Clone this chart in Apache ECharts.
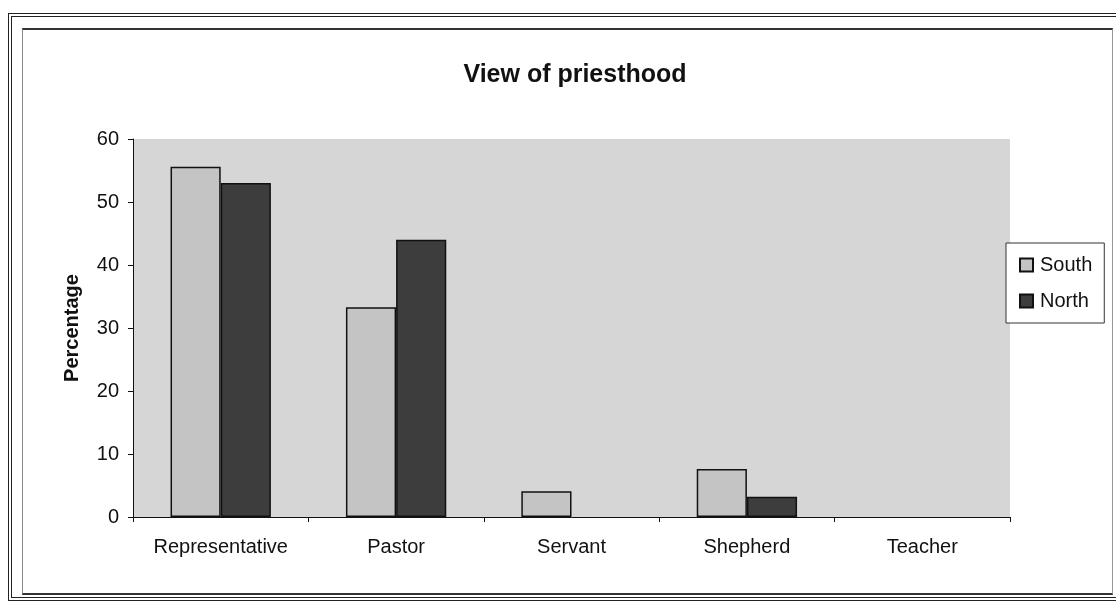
<!DOCTYPE html>
<html>
<head>
<meta charset="utf-8">
<script src="https://cdn.jsdelivr.net/npm/echarts@6/dist/echarts.min.js"></script>
<style>
  html, body { margin: 0; padding: 0; background: #fff; }
  .frame { position: absolute; left: 8px; top: 13px; width: 1104px; height: 580px; border: 4px double #222; border-right: none; }
  .inner { position: absolute; left: 22px; top: 28px; width: 1089px; height: 563px; border-top: 2px solid #333; border-left: 1px solid #888; border-right: 1px solid #999; border-bottom: 2px solid #333; }
  #chart { position: absolute; left: 0; top: 0; width: 1120px; height: 601px; }
</style>
</head>
<body>
<div class="frame"></div>
<div class="inner"></div>
<div id="chart"></div>
<script>
const categories = ['Representative', 'Pastor', 'Servant', 'Shepherd', 'Teacher'];
const southValues = [55.6, 33.3, 4.1, 7.6, 0];
const northValues = [53.0, 44.0, 0, 3.2, 0];
const yTicks = [0, 10, 20, 30, 40, 50, 60];

// zero bars are not drawn in the original
const noZero = arr => arr.map(v => (v === 0 ? '-' : v));

const chart = echarts.init(document.getElementById('chart'));
const font = 'Arial, "Liberation Sans", sans-serif';

chart.setOption({
  animation: false,
  textStyle: { fontFamily: font },
  title: {
    text: 'View of priesthood',
    left: 570,
    textAlign: 'center',
    top: 58,
    textStyle: { fontSize: 25, fontWeight: 'bold', color: '#111', fontFamily: font }
  },
  legend: {
    orient: 'vertical',
    left: 1006,
    top: 243,
    padding: [12, 12, 12, 13],
    itemGap: 16,
    itemWidth: 13,
    itemHeight: 13,
    icon: 'rect',
    borderColor: '#333',
    borderWidth: 1,
    backgroundColor: '#fff',
    textStyle: { fontSize: 20, color: '#111', fontFamily: font, padding: [0, 0, 0, 2] },
    data: ['South', 'North']
  },
  grid: {
    left: 133,
    right: 110,
    top: 139,
    bottom: 84,
    show: true,
    backgroundColor: '#d6d6d6',
    borderWidth: 0
  },
  xAxis: {
    type: 'category',
    data: categories,
    axisLine: { lineStyle: { color: '#111', width: 1 } },
    axisTick: { show: true, length: 5, lineStyle: { color: '#111' } },
    axisLabel: { fontSize: 20, color: '#111', margin: 20, fontFamily: font }
  },
  yAxis: {
    type: 'value',
    min: yTicks[0],
    max: yTicks[yTicks.length - 1],
    interval: 10,
    name: 'Percentage',
    nameLocation: 'middle',
    nameGap: 51,
    nameTextStyle: { fontSize: 20, fontWeight: 'bold', color: '#111', fontFamily: font },
    axisLine: { show: true, lineStyle: { color: '#111' } },
    axisTick: { show: true, length: 5, lineStyle: { color: '#111' } },
    axisLabel: { fontSize: 20, color: '#111', margin: 14, fontFamily: font },
    splitLine: { show: false }
  },
  series: [
    {
      name: 'South',
      type: 'bar',
      data: noZero(southValues),
      barWidth: '28.6%',
      barGap: '0%',
      barCategoryGap: '43%',
      itemStyle: { color: '#c4c4c4', borderColor: '#111', borderWidth: 1.5 }
    },
    {
      name: 'North',
      type: 'bar',
      data: noZero(northValues),
      barWidth: '28.6%',
      itemStyle: { color: '#3d3d3d', borderColor: '#111', borderWidth: 1.5 }
    }
  ]
});
</script>
</body>
</html>
